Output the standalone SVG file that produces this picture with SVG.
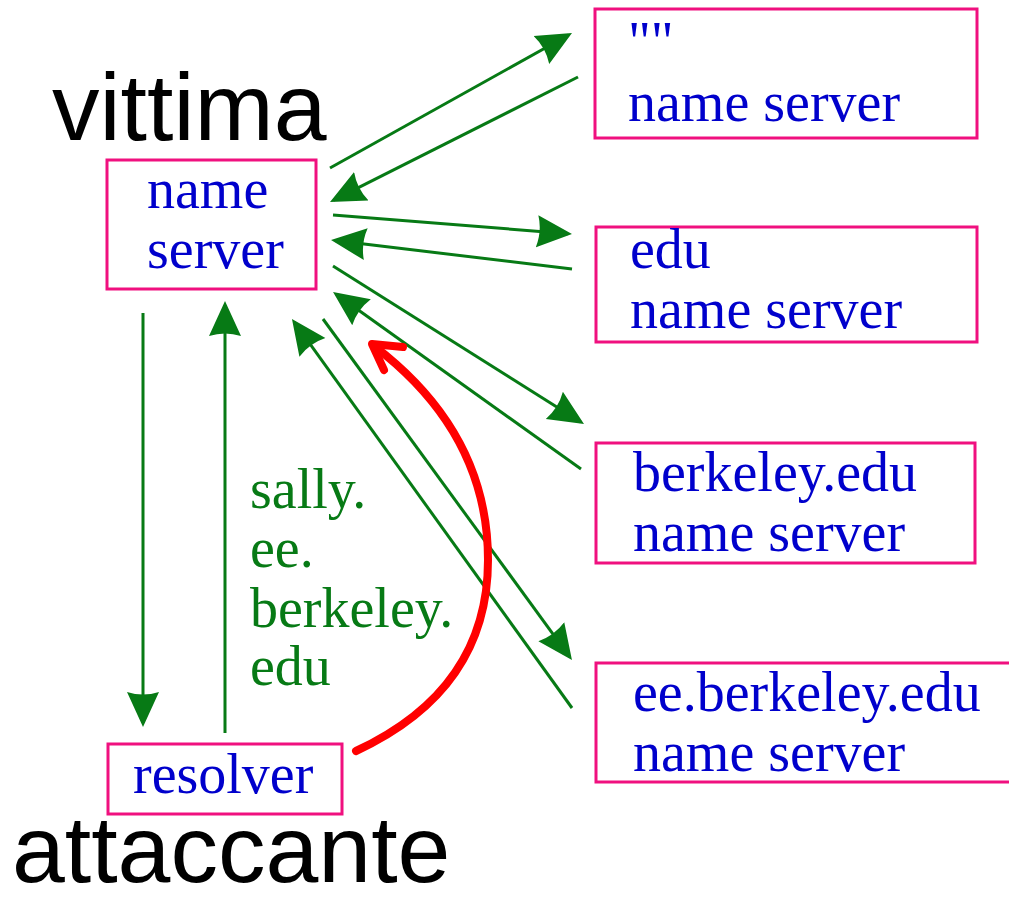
<svg xmlns="http://www.w3.org/2000/svg" width="1009" height="901" viewBox="0 0 1009 901">
<style>
.box{fill:#fff;stroke:#f0107f;stroke-width:3}
.lbl{font-family:"Liberation Serif","Times New Roman",serif;font-size:56px;fill:#0000cc}
.big{font-family:"Liberation Sans",Arial,sans-serif;font-size:95px;fill:#000}
.grn{font-family:"Liberation Serif","Times New Roman",serif;font-size:56px;fill:#077a15}
.conn line{stroke:#077a15;stroke-width:3;marker-end:url(#ah)}
</style>
<defs>
<marker id="ah" markerUnits="userSpaceOnUse" markerWidth="38" markerHeight="34" viewBox="0 0 38 34" refX="31" refY="17" orient="auto">
<path d="M0,1 L35,17 L0,33 Q5,17 0,1 z" fill="#077a15"/>
</marker>
</defs>
<rect width="1009" height="901" fill="#fff"/>
<text class="big" x="52" y="140">vittima</text>
<text class="big" x="12" y="882">attaccante</text>
<g id="victim-ns">
<rect class="box" x="107" y="160" width="209" height="129"/>
<text class="lbl" x="147" y="208">name</text>
<text class="lbl" x="147" y="268">server</text>
</g>
<g id="root-ns">
<rect class="box" x="595" y="9" width="382" height="129"/>
<text class="lbl" x="628" y="61">""</text>
<text class="lbl" x="628" y="121">name server</text>
</g>
<g id="edu-ns">
<rect class="box" x="596" y="227" width="381" height="115"/>
<text class="lbl" x="630" y="268">edu</text>
<text class="lbl" x="630" y="328">name server</text>
</g>
<g id="berkeley-ns">
<rect class="box" x="596" y="443" width="379" height="120"/>
<text class="lbl" x="633" y="491">berkeley.edu</text>
<text class="lbl" x="633" y="551">name server</text>
</g>
<g id="ee-ns">
<rect class="box" x="596" y="663" width="420" height="119"/>
<text class="lbl" x="633" y="711">ee.berkeley.edu</text>
<text class="lbl" x="633" y="771">name server</text>
</g>
<g id="resolver">
<rect class="box" x="108" y="744" width="234" height="70"/>
<text class="lbl" x="133" y="793">resolver</text>
</g>
<g id="query-label">
<text class="grn" x="250" y="508">sally.</text>
<text class="grn" x="250" y="567">ee.</text>
<text class="grn" x="250" y="627">berkeley.</text>
<text class="grn" x="250" y="685">edu</text>
</g>
<g class="conn" id="connectors">
<line x1="330" y1="168" x2="568.5" y2="35"/>
<line x1="578" y1="77" x2="333.6" y2="200.2"/>
<line x1="333" y1="215" x2="568" y2="233.7"/>
<line x1="572" y1="269" x2="335" y2="240.5"/>
<line x1="333" y1="266" x2="580.6" y2="421.9"/>
<line x1="581" y1="469" x2="336.3" y2="294.3"/>
<line x1="323" y1="319" x2="569.6" y2="656.8"/>
<line x1="572" y1="708" x2="294.3" y2="322.2"/>
<line x1="143" y1="313" x2="143" y2="723"/>
<line x1="225" y1="733" x2="225" y2="305"/>
</g>
<g id="attack-arrow" fill="none" stroke="#ff0000" stroke-width="8" stroke-linecap="round" stroke-linejoin="round">
<path d="M356,751 C440,712 488,650 488,560 C488,470 445,400 374,346"/>
<polyline points="403,347 372,344 384,370"/>
</g>
</svg>
